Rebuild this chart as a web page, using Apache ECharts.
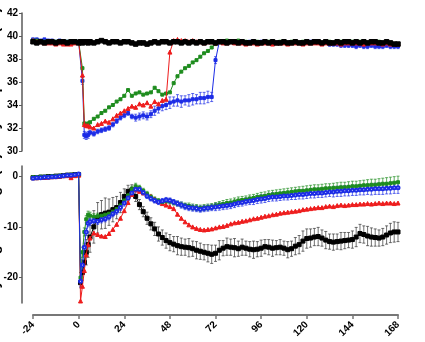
<!DOCTYPE html>
<html>
<head>
<meta charset="utf-8">
<script src="https://cdn.jsdelivr.net/npm/echarts@6.0.0/dist/echarts.min.js"></script>
<style>
  html, body { margin: 0; padding: 0; background: #fff; }
  #chart { width: 425px; height: 342px; }
</style>
</head>
<body>
<div id="chart"></div>
<script>
// sampling times (h)
const hours = [
  -24, -22, -20, -18, -16, -14, -12, -10, -8, -6, -4, -2, 0,
  1, 2, 3, 4, 5,
  6, 8, 10, 12, 14, 16, 18, 20, 22, 24,
  26, 28, 30, 32, 34, 36, 38, 40, 42, 44,
  46, 48, 50, 52, 54, 56, 58, 60, 62, 64,
  66, 68, 70, 72, 74, 76, 78, 80, 82, 84,
  86, 88, 90, 92, 94, 96, 98, 100, 102, 104,
  106, 108, 110, 112, 114, 116, 118, 120, 122, 124,
  126, 128, 130, 132, 134, 136, 138, 140, 142, 144,
  146, 148, 150, 152, 154, 156, 158, 160, 162, 164,
  166, 168
];
const xTicks = [-24, 0, 24, 48, 72, 96, 120, 144, 168];
const tempTicks = [30, 32, 34, 36, 38, 40, 42];
const weightTicks = [0, -10, -20];

// top panel: temperature
const tempBlack = [
  39.5, 39.4, 39.5, 39.4, 39.5, 39.5, 39.4, 39.5, 39.5, 39.4, 39.5, 39.5, 39.4,
  39.5, 39.4, 39.5, 39.5, 39.4,
  39.5, 39.4, 39.5, 39.6, 39.5, 39.4, 39.5, 39.5, 39.4, 39.5,
  39.5, 39.4, 39.3, 39.4, 39.4, 39.3, 39.4, 39.5, 39.4, 39.5,
  39.5, 39.4, 39.5, 39.5, 39.4, 39.5, 39.4, 39.5, 39.4, 39.5,
  39.4, 39.5, 39.5, 39.4, 39.5, 39.5, 39.4, 39.5, 39.5, 39.4,
  39.5, 39.4, 39.4, 39.5, 39.4, 39.4, 39.5, 39.4, 39.5, 39.4,
  39.4, 39.5, 39.4, 39.4, 39.5, 39.4, 39.4, 39.5, 39.4, 39.5,
  39.5, 39.4, 39.5, 39.4, 39.4, 39.5, 39.4, 39.5, 39.5, 39.4,
  39.5, 39.4, 39.5, 39.4, 39.5, 39.5, 39.4, 39.4, 39.5, 39.4,
  39.3, 39.3
];
const tempRed = [
  39.6, 39.5, 39.5, 39.4, 39.4, 39.4, 39.3, 39.4, 39.3, 39.3, 39.3, 39.4, 39.5,
  39.5, 36.6, 32.3, 32.2, 32.2,
  32.1, 32.0, 32.3, 32.4, 32.6, 32.5, 32.8, 33.1, 33.3, 33.5,
  33.7, 33.9, 33.8, 34.1, 34.0, 34.2, 33.9, 34.3, 34.1, 34.4,
  34.5, 38.6, 39.6, 39.7, 39.6, 39.6, 39.5, 39.6, 39.5, 39.5,
  39.4, 39.5, 39.5, 39.4, 39.5, 39.4, 39.4, 39.5, 39.4, 39.4,
  39.4, 39.3, 39.4, 39.4, 39.3, 39.4, 39.4, 39.4, 39.3, 39.4,
  39.4, 39.4, 39.3, 39.4, 39.4, 39.4, 39.3, 39.4, 39.4, 39.4,
  39.4, 39.3, 39.4, 39.4, 39.4, 39.4, 39.3, 39.4, 39.4, 39.4,
  39.4, 39.4, 39.3, 39.4, 39.4, 39.4, 39.4, 39.3, 39.4, 39.3,
  39.3, 39.3
];
const tempGreen = [
  39.6, 39.6, 39.5, 39.5, 39.5, 39.4, 39.5, 39.4, 39.5, 39.5, 39.4, 39.5, 39.5,
  39.5, 37.2, 32.4, 32.3, 32.4,
  32.5, 32.8, 33.0, 33.3, 33.5, 33.8, 34.0, 34.3, 34.5, 34.8,
  35.3, 34.8, 35.0, 35.1, 34.9, 35.0, 35.1, 35.5, 35.2, 34.9,
  35.0, 35.1, 35.9, 36.5, 36.9, 37.2, 37.4, 37.7, 37.9, 38.2,
  38.5, 38.7, 39.0, 39.3, 39.5, 39.5, 39.6, 39.5, 39.5, 39.6,
  39.5, 39.5, 39.4, 39.5, 39.5, 39.4, 39.5, 39.5, 39.5, 39.4,
  39.5, 39.5, 39.4, 39.5, 39.5, 39.4, 39.5, 39.5, 39.4, 39.5,
  39.5, 39.4, 39.5, 39.5, 39.4, 39.5, 39.5, 39.4, 39.5, 39.5,
  39.4, 39.5, 39.5, 39.4, 39.5, 39.4, 39.5, 39.4, 39.4, 39.4,
  39.3, 39.3
];
const tempBlue = [
  39.7, 39.7, 39.6, 39.7, 39.6, 39.6, 39.5, 39.6, 39.5, 39.5, 39.5, 39.4, 39.5,
  39.5, 36.1, 31.4, 31.3, 31.4,
  31.6, 31.5, 31.7, 31.8, 31.9, 32.0, 32.3, 32.6, 32.9, 33.1,
  33.3, 33.0, 32.9, 33.0, 33.1, 33.0, 33.2, 33.5, 33.7, 33.9,
  34.0, 34.2, 34.3, 34.4, 34.3, 34.4, 34.4, 34.5, 34.5, 34.6,
  34.6, 34.7, 34.7, 37.9, 39.5, 39.5, 39.4, 39.5, 39.5, 39.4,
  39.5, 39.4, 39.5, 39.4, 39.4, 39.5, 39.4, 39.4, 39.5, 39.4,
  39.4, 39.5, 39.4, 39.4, 39.5, 39.4, 39.4, 39.4, 39.5, 39.4,
  39.4, 39.3, 39.4, 39.3, 39.3, 39.3, 39.2, 39.2, 39.2, 39.2,
  39.1, 39.2, 39.1, 39.1, 39.2, 39.1, 39.1, 39.1, 39.2, 39.1,
  39.1, 39.1
];
const tempBlueErr = [
  0.1, 0.1, 0.1, 0.1, 0.1, 0.1, 0.1, 0.1, 0.1, 0.1, 0.1, 0.1, 0.1,
  0.1, 0.3, 0.3, 0.3, 0.3,
  0.2, 0.2, 0.2, 0.2, 0.2, 0.2, 0.2, 0.2, 0.2, 0.2,
  0.2, 0.2, 0.3, 0.3, 0.3, 0.3, 0.3, 0.4, 0.4, 0.4,
  0.4, 0.5, 0.4, 0.5, 0.5, 0.4, 0.5, 0.5, 0.4, 0.5,
  0.5, 0.5, 0.4, 0.3, 0.1, 0.1, 0.1, 0.1, 0.1, 0.1,
  0.1, 0.1, 0.1, 0.1, 0.1, 0.1, 0.1, 0.1, 0.1, 0.1,
  0.1, 0.1, 0.1, 0.1, 0.1, 0.1, 0.1, 0.1, 0.1, 0.1,
  0.1, 0.1, 0.1, 0.2, 0.2, 0.2, 0.2, 0.2, 0.2, 0.2,
  0.2, 0.2, 0.2, 0.2, 0.2, 0.2, 0.2, 0.2, 0.2, 0.2,
  0.2, 0.2
];

// bottom panel: weight change
const wBlack = [
  -0.3, -0.3, -0.2, -0.2, -0.1, -0.1, 0.0, 0.0, 0.1, 0.2, 0.2, 0.3, 0.3,
  -21.0, -19.0, -17.0, -15.0, -13.5,
  -12.0, -10.0, -8.2, -7.6, -7.3, -7.1, -6.6, -6.2, -5.2, -4.0,
  -3.0, -2.7, -4.0, -5.6, -7.0, -8.3, -9.4, -10.4, -11.4, -12.1,
  -12.7, -13.1, -13.4, -13.7, -13.9, -14.0, -14.1, -14.3, -14.6, -14.8,
  -15.0, -15.2, -15.4, -15.2, -14.6, -14.2, -13.9, -14.0, -14.1, -14.3,
  -14.0, -14.2, -14.4, -14.5, -14.4, -14.2, -13.9, -14.0, -14.2, -14.1,
  -14.0, -14.2, -14.5, -14.3, -13.8, -13.5, -12.8, -12.3, -12.2, -12.0,
  -11.9, -12.2, -12.6, -12.9, -13.0, -12.9, -12.8, -12.7, -12.6, -12.5,
  -12.0, -11.3, -11.5, -11.8, -12.0, -12.1, -12.2, -12.0, -11.6, -11.2,
  -11.0, -11.0
];
const wBlackErr = [
  0.3, 0.3, 0.3, 0.3, 0.3, 0.3, 0.3, 0.3, 0.3, 0.3, 0.3, 0.3, 0.3,
  1.0, 1.5, 2.0, 2.5, 2.5,
  3.0, 3.2, 3.0, 2.8, 3.0, 2.6, 2.4, 2.2, 2.0, 1.5,
  1.2, 1.0, 1.0, 1.0, 1.0, 1.2, 1.2, 1.3, 1.4, 1.5,
  1.5, 1.6, 1.5, 1.8, 1.7, 1.6, 1.8, 1.5, 1.7, 1.6,
  1.5, 1.7, 1.8, 1.6, 1.9, 1.5, 1.7, 1.6, 1.8, 1.5,
  1.6, 1.4, 1.5, 1.7, 1.5, 1.6, 1.4, 1.5, 1.6, 1.4,
  1.5, 1.4, 1.6, 1.5, 1.7, 1.8, 2.0, 1.9, 1.8, 1.7,
  1.8, 1.6, 1.7, 1.5, 1.6, 1.5, 1.7, 1.6, 1.5, 1.7,
  1.9, 1.8, 1.7, 1.9, 1.8, 1.7, 1.6, 1.7, 1.8, 1.9,
  2.0, 1.9
];
const wRed = [
  -0.3, -0.3, -0.2, -0.2, -0.2, -0.1, -0.1, 0.0, 0.1, 0.1, -0.3, 0.1, 0.2,
  -24.6, -21.7, -18.6, -15.5, -13.5,
  -12.2, -11.2, -11.5, -11.8, -11.9, -11.3, -10.5, -9.5, -8.3, -6.8,
  -5.2, -3.6, -2.7, -3.0, -3.3, -3.6, -4.0, -4.5, -5.0, -5.4,
  -5.7, -6.0, -6.4, -7.5, -8.3, -9.0, -9.6, -10.0, -10.3, -10.5,
  -10.6, -10.5, -10.4, -10.2, -10.0, -9.9, -9.7, -9.4, -9.2, -9.1,
  -8.9, -8.8, -8.6, -8.4, -8.3, -8.1, -7.9, -7.8, -7.6, -7.5,
  -7.3, -7.2, -7.1, -7.0, -6.9, -6.8, -6.6, -6.5, -6.4, -6.3,
  -6.2, -6.2, -6.0, -5.9, -6.0, -5.8, -5.7, -5.8, -5.7, -5.6,
  -5.6, -5.5, -5.5, -5.4, -5.5, -5.4, -5.3, -5.4, -5.3, -5.3,
  -5.4, -5.3
];
const wGreen = [
  -0.2, -0.2, -0.1, -0.1, -0.1, 0.0, 0.0, 0.1, 0.1, 0.2, 0.3, 0.3, 0.4,
  -20.0, -15.0, -11.0, -8.5, -7.6,
  -7.8, -8.0, -7.9, -7.8, -7.6, -7.4, -7.0, -6.5, -5.8, -4.8,
  -3.8, -2.6, -2.0, -2.3, -2.9, -3.5, -4.1, -4.6, -4.9, -5.1,
  -4.9, -5.0, -5.2, -5.4, -5.6, -5.8, -5.9, -6.1, -6.2, -6.3,
  -6.2, -6.1, -6.0, -5.8, -5.6, -5.5, -5.3, -5.2, -5.0, -4.8,
  -4.7, -4.6, -4.4, -4.3, -4.1, -4.0, -3.9, -3.7, -3.6, -3.5,
  -3.4, -3.3, -3.2, -3.1, -3.0, -2.9, -2.9, -2.8, -2.7, -2.6,
  -2.6, -2.5, -2.4, -2.4, -2.3, -2.3, -2.2, -2.2, -2.1, -2.0,
  -2.0, -1.9, -1.8, -1.8, -1.7, -1.7, -1.6, -1.5, -1.5, -1.4,
  -1.3, -1.2
];
const wGreenErr = [
  0.2, 0.2, 0.2, 0.2, 0.2, 0.2, 0.2, 0.2, 0.2, 0.2, 0.2, 0.2, 0.2,
  1.0, 1.0, 0.8, 0.7, 0.7,
  0.7, 0.6, 0.6, 0.6, 0.6, 0.6, 0.6, 0.6, 0.6, 0.6,
  0.6, 0.6, 0.6, 0.5, 0.5, 0.5, 0.5, 0.5, 0.5, 0.5,
  0.5, 0.5, 0.5, 0.5, 0.5, 0.5, 0.6, 0.6, 0.6, 0.6,
  0.6, 0.6, 0.6, 0.6, 0.6, 0.7, 0.7, 0.7, 0.7, 0.7,
  0.7, 0.7, 0.7, 0.7, 0.7, 0.8, 0.8, 0.8, 0.8, 0.8,
  0.8, 0.8, 0.8, 0.8, 0.8, 0.8, 0.9, 0.9, 0.9, 0.9,
  0.9, 0.9, 0.9, 0.9, 0.9, 1.0, 1.0, 1.0, 1.0, 1.0,
  1.0, 1.0, 1.0, 1.1, 1.1, 1.1, 1.1, 1.1, 1.2, 1.2,
  1.2, 1.2
];
const wBlue = [
  -0.4, -0.3, -0.3, -0.2, -0.2, -0.1, -0.1, 0.0, 0.1, 0.2, 0.2, 0.3, 0.4,
  -20.7, -17.5, -14.0, -11.0, -9.3,
  -9.0, -8.8, -8.9, -8.6, -8.4, -8.0, -7.4, -6.9, -6.2, -5.3,
  -4.3, -3.3, -2.6, -2.6, -3.2, -3.9, -4.4, -4.8, -5.1, -4.9,
  -4.7, -4.8, -5.1, -5.4, -5.7, -6.0, -6.2, -6.3, -6.4, -6.5,
  -6.4, -6.3, -6.2, -6.1, -6.0, -5.9, -5.8, -5.7, -5.5, -5.3,
  -5.2, -5.0, -4.9, -4.8, -4.6, -4.5, -4.4, -4.2, -4.1, -4.1,
  -4.0, -3.9, -3.9, -3.8, -3.7, -3.6, -3.6, -3.5, -3.4, -3.4,
  -3.3, -3.3, -3.2, -3.1, -3.1, -3.0, -3.0, -2.9, -2.9, -2.8,
  -2.8, -2.7, -2.7, -2.6, -2.6, -2.5, -2.5, -2.5, -2.4, -2.4,
  -2.3, -2.3
];
const wBlueErr = [
  0.2, 0.2, 0.2, 0.2, 0.2, 0.2, 0.2, 0.2, 0.2, 0.2, 0.2, 0.2, 0.2,
  1.0, 1.0, 0.8, 0.7, 0.7,
  0.7, 0.6, 0.6, 0.6, 0.6, 0.6, 0.6, 0.6, 0.6, 0.6,
  0.6, 0.6, 0.5, 0.5, 0.5, 0.5, 0.5, 0.5, 0.5, 0.5,
  0.5, 0.5, 0.5, 0.5, 0.6, 0.6, 0.6, 0.6, 0.6, 0.6,
  0.6, 0.6, 0.6, 0.7, 0.7, 0.7, 0.7, 0.7, 0.7, 0.7,
  0.7, 0.7, 0.7, 0.8, 0.8, 0.8, 0.8, 0.8, 0.8, 0.8,
  0.8, 0.8, 0.8, 0.8, 0.9, 0.9, 0.9, 0.9, 0.9, 0.9,
  0.9, 0.9, 0.9, 0.9, 1.0, 1.0, 1.0, 1.0, 1.0, 1.0,
  1.0, 1.0, 1.0, 1.0, 1.1, 1.1, 1.1, 1.1, 1.1, 1.1,
  1.1, 1.1
];

const BLACK = '#000000';
const RED = '#ee1c1c';
const GREEN = '#1e8c1e';
const BLUE = '#1c2ce6';

const chart = echarts.init(document.getElementById('chart'));

function pairs(vals) {
  return hours.map((h, i) => [h, vals[i]]);
}
function errRows(vals, errs) {
  return hours.map((h, i) => [h, vals[i] - errs[i], vals[i] + errs[i]]);
}

function renderErrorBar(params, api) {
  const x = api.value(0);
  const lo = api.coord([x, api.value(1)]);
  const hi = api.coord([x, api.value(2)]);
  const c = api.visual('color');
  const cap = 1.5;
  const st = { stroke: c, lineWidth: 0.7 };
  return {
    type: 'group',
    children: [
      { type: 'line', shape: { x1: lo[0], y1: lo[1], x2: hi[0], y2: hi[1] }, style: st },
      { type: 'line', shape: { x1: hi[0] - cap, y1: hi[1], x2: hi[0] + cap, y2: hi[1] }, style: st },
      { type: 'line', shape: { x1: lo[0] - cap, y1: lo[1], x2: lo[0] + cap, y2: lo[1] }, style: st }
    ]
  };
}

function lineSeries(panel, vals, color, symbol, size, z) {
  return {
    type: 'line',
    xAxisIndex: panel,
    yAxisIndex: panel,
    data: pairs(vals),
    symbol: symbol,
    symbolSize: size,
    showSymbol: true,
    lineStyle: { color: color, width: 1 },
    itemStyle: { color: color, borderColor: color, borderWidth: 1 },
    z: z
  };
}

function errSeries(panel, vals, errs, color, z) {
  return {
    type: 'custom',
    xAxisIndex: panel,
    yAxisIndex: panel,
    renderItem: renderErrorBar,
    encode: { x: 0, y: [1, 2] },
    itemStyle: { color: color },
    data: errRows(vals, errs),
    z: z
  };
}

const labelStyle = { fontSize: 10, fontWeight: 'bold', color: '#000', fontFamily: 'Liberation Sans, Arial, sans-serif' };
const axisGray = '#5a5a5a';

const option = {
  animation: false,
  backgroundColor: '#fff',
  grid: [
    { left: 33, top: 13, width: 365, height: 138, outerBoundsMode: 'none', containLabel: false },
    { left: 33, top: 166, width: 365, height: 137, outerBoundsMode: 'none', containLabel: false }
  ],
  xAxis: [
    { gridIndex: 0, type: 'value', min: -24, max: 168, interval: 24, show: false },
    {
      gridIndex: 1, type: 'value', min: -24, max: 168, interval: 24, offset: 12,
      axisLine: { onZero: false, lineStyle: { color: '#777', width: 2 } },
      axisTick: { show: true, length: 4, lineStyle: { color: '#777', width: 1.5 } },
      axisLabel: Object.assign({}, labelStyle, { rotate: 45, margin: 8, fontSize: 10, customValues: xTicks }),
      splitLine: { show: false }
    }
  ],
  yAxis: [
    {
      gridIndex: 0, type: 'value', min: 30, max: 42, interval: 2, offset: 11,
      name: 'Body temperature (°C)', nameLocation: 'middle', nameGap: 20, nameMoveOverlap: false,
      nameTextStyle: { fontSize: 14, fontWeight: 'bold', color: '#000' },
      axisLine: { show: true, onZero: false, lineStyle: { color: axisGray, width: 1.5 } },
      axisTick: { show: true, length: 3, lineStyle: { color: axisGray }, customValues: tempTicks },
      axisLabel: Object.assign({ margin: 4, customValues: tempTicks }, labelStyle),
      splitLine: { show: false }
    },
    {
      gridIndex: 1, type: 'value', min: -25, max: 2, offset: 11,
      name: 'Body weight change (%)', nameLocation: 'middle', nameGap: 20, nameMoveOverlap: false,
      nameTextStyle: { fontSize: 14, fontWeight: 'bold', color: '#000' },
      axisLine: { show: true, onZero: false, lineStyle: { color: axisGray, width: 1.5 } },
      axisTick: { show: true, length: 3, lineStyle: { color: axisGray }, customValues: weightTicks },
      axisLabel: Object.assign({ margin: 4, customValues: weightTicks }, labelStyle),
      splitLine: { show: false }
    }
  ],
  series: [
    errSeries(0, tempBlue, tempBlueErr, BLUE, 2),
    lineSeries(0, tempBlue, BLUE, 'rect', 3, 3),
    lineSeries(0, tempGreen, GREEN, 'rect', 3, 4),
    lineSeries(0, tempRed, RED, 'triangle', 4, 5),
    lineSeries(0, tempBlack, BLACK, 'rect', 4.5, 6),

    errSeries(1, wBlack, wBlackErr, '#333', 2),
    errSeries(1, wGreen, wGreenErr, GREEN, 2),
    errSeries(1, wBlue, wBlueErr, BLUE, 2),
    lineSeries(1, wBlack, BLACK, 'rect', 4, 3),
    lineSeries(1, wRed, RED, 'triangle', 4, 4),
    lineSeries(1, wGreen, GREEN, 'rect', 3, 5),
    lineSeries(1, wBlue, BLUE, 'emptyCircle', 3, 6)
  ]
};

chart.setOption(option);
</script>
</body>
</html>
